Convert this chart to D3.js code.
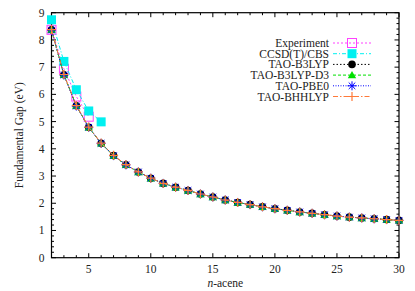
<!DOCTYPE html>
<html><head><meta charset="utf-8">
<script src="https://cdn.jsdelivr.net/npm/d3@7"></script>
<style>
html,body{margin:0;padding:0;background:#fff;}
svg{display:block;}
</style></head>
<body><svg id="c" width="415" height="291"></svg>
<script>
// ---- data ----
const nExp = [2, 3, 4, 5];
const experiment = [8.37, 6.94, 5.92, 5.18];
const nCC = [2, 3, 4, 5, 6];
const ccsdt = [8.74, 7.21, 6.17, 5.39, 4.99];
const nTAO = d3.range(2, 31);
const taoB3LYP   = [8.37,6.72,5.58,4.79,4.20,3.75,3.41,3.15,2.92,2.73,2.59,2.47,2.34,2.23,2.12,2.03,1.95,1.87,1.80,1.74,1.68,1.63,1.58,1.53,1.49,1.46,1.43,1.40,1.37];
const taoB3LYPD3 = [8.37,6.72,5.58,4.79,4.20,3.75,3.41,3.15,2.92,2.73,2.59,2.47,2.34,2.23,2.12,2.03,1.95,1.87,1.80,1.74,1.68,1.63,1.58,1.53,1.49,1.46,1.43,1.40,1.37];
const taoPBE0    = [8.36,6.71,5.57,4.79,4.20,3.75,3.41,3.15,2.92,2.73,2.59,2.47,2.34,2.23,2.12,2.03,1.95,1.87,1.80,1.74,1.68,1.63,1.58,1.53,1.49,1.46,1.43,1.40,1.37];
const taoBHHLYP  = [8.38,6.73,5.59,4.80,4.21,3.76,3.42,3.15,2.92,2.73,2.59,2.47,2.34,2.23,2.12,2.03,1.95,1.87,1.80,1.74,1.68,1.63,1.58,1.53,1.49,1.46,1.43,1.40,1.37];
const xTicks = [5, 10, 15, 20, 25, 30];
const yTicks = [0,1,2,3,4,5,6,7,8,9];
const seriesNames = ["Experiment","CCSD(T)/CBS","TAO-B3LYP","TAO-B3LYP-D3","TAO-PBE0","TAO-BHHLYP"];

// ---- layout ----
const FONT = "Times New Roman, Times, Liberation Serif, Tinos, DejaVu Serif, serif";
const L = 51.5, R = 399, T = 12.7, B = 257.7;
const svg = d3.select("#c");
const x = d3.scaleLinear().domain([2, 30]).range([L, R]);
const y = d3.scaleLinear().domain([0, 9]).range([B, T]);

const series = [
  {name: seriesNames[0], xs: nExp, ys: experiment, color: "#ff40ff", dash: "2,2", marker: "osquare"},
  {name: seriesNames[1], xs: nCC, ys: ccsdt, color: "#00f0f0", dash: "4,2,1,2", marker: "fsquare"},
  {name: seriesNames[2], xs: nTAO, ys: taoB3LYP, color: "#000000", dash: "1.5,2", marker: "circle"},
  {name: seriesNames[3], xs: nTAO, ys: taoB3LYPD3, color: "#00e000", dash: "3,2", marker: "triangle"},
  {name: seriesNames[4], xs: nTAO, ys: taoPBE0, color: "#0000ff", dash: "1,1.5", marker: "star"},
  {name: seriesNames[5], xs: nTAO, ys: taoBHHLYP, color: "#ff7a3a", dash: "5,2,1.5,2", marker: "plus"}
];

// ---- axes (ticks on all four sides, inward) ----
const axG = svg.append("g").attr("fill","none");
const minorX = d3.range(3, 30, 1).filter(v => v % 5 !== 0);
const minorY = d3.range(0, 9.001, 0.2).filter(v => Math.abs(v - Math.round(v)) > 1e-6);
function tick(x1,y1,x2,y2){ axG.append("line").attr("x1",x1).attr("y1",y1).attr("x2",x2).attr("y2",y2).attr("stroke","#000").attr("stroke-width",1); }
xTicks.forEach(v => { tick(x(v),B,x(v),B-4.5); tick(x(v),T,x(v),T+4.5); });
minorX.forEach(v => { tick(x(v),B,x(v),B-2.5); tick(x(v),T,x(v),T+2.5); });
yTicks.forEach(v => { tick(L,y(v),L+4.5,y(v)); tick(R,y(v),R-4.5,y(v)); });
minorY.forEach(v => { tick(L,y(v),L+2.5,y(v)); tick(R,y(v),R-2.5,y(v)); });
svg.append("rect").attr("x",L).attr("y",T).attr("width",R-L).attr("height",B-T)
  .attr("fill","none").attr("stroke","#000").attr("stroke-width",1.2);

const lab = svg.append("g").style("font-family", FONT).style("font-size", "11.5px").attr("fill","#222");
xTicks.forEach(v => lab.append("text").attr("x", x(v)).attr("y", B + 15).attr("text-anchor","middle").text(v));
yTicks.forEach(v => lab.append("text").attr("x", L - 7).attr("y", y(v) + 4).attr("text-anchor","end").text(v));
const xl = lab.append("text").attr("x", (L+R)/2).attr("y", 287).attr("text-anchor","middle");
xl.append("tspan").attr("font-style","italic").text("n");
xl.append("tspan").text("-acene");
lab.append("text").attr("transform", `translate(23,${(T+B)/2}) rotate(-90)`).attr("text-anchor","middle").text("Fundamental Gap (eV)");

// ---- markers ----
function drawMarker(g, m, cx, cy, color){
  if (m === "osquare") g.append("rect").attr("x",cx-4.5).attr("y",cy-4.5).attr("width",9).attr("height",9).attr("fill","none").attr("stroke",color).attr("stroke-width",1);
  else if (m === "fsquare") g.append("rect").attr("x",cx-4.5).attr("y",cy-4.5).attr("width",9).attr("height",9).attr("fill",color);
  else if (m === "circle") g.append("circle").attr("cx",cx).attr("cy",cy).attr("r",3.8).attr("fill",color);
  else if (m === "triangle") g.append("path").attr("d",`M${cx},${cy-4.2}L${cx+4.2},${cy+3.2}L${cx-4.2},${cy+3.2}Z`).attr("fill",color);
  else if (m === "star") {
    const p = d3.path();
    p.moveTo(cx-4.5,cy); p.lineTo(cx+4.5,cy);
    p.moveTo(cx,cy-4.5); p.lineTo(cx,cy+4.5);
    p.moveTo(cx-3.3,cy-3.3); p.lineTo(cx+3.3,cy+3.3);
    p.moveTo(cx-3.3,cy+3.3); p.lineTo(cx+3.3,cy-3.3);
    g.append("path").attr("d",p.toString()).attr("stroke",color).attr("stroke-width",1).attr("fill","none");
  } else if (m === "plus") {
    const p = d3.path();
    p.moveTo(cx-4.5,cy); p.lineTo(cx+4.5,cy);
    p.moveTo(cx,cy-4.5); p.lineTo(cx,cy+4.5);
    g.append("path").attr("d",p.toString()).attr("stroke",color).attr("stroke-width",1.2).attr("fill","none");
  }
}

const line = d3.line().x(d => x(d[0])).y(d => y(d[1]));
const plotG = svg.append("g");
series.forEach(s => {
  const pts = s.xs.map((v,i) => [v, s.ys[i]]);
  plotG.append("path").attr("d", line(pts)).attr("fill","none").attr("stroke", s.color)
    .attr("stroke-width", 1).attr("stroke-dasharray", s.dash);
  const mg = plotG.append("g");
  pts.forEach(p => drawMarker(mg, s.marker, x(p[0]), y(p[1]), s.color));
});

// ---- legend ----
const lg = svg.append("g").style("font-family", FONT).style("font-size", "11.5px").attr("fill","#222");
series.forEach((s, i) => {
  const yy = 43 + i * 10.7;
  lg.append("text").attr("x", 329).attr("y", yy + 4).attr("text-anchor","end").text(s.name);
  lg.append("line").attr("x1", 333).attr("x2", 371).attr("y1", yy).attr("y2", yy)
    .attr("stroke", s.color).attr("stroke-width", 1).attr("stroke-dasharray", s.dash);
  drawMarker(lg, s.marker, 352, yy, s.color);
});
</script></body></html>
